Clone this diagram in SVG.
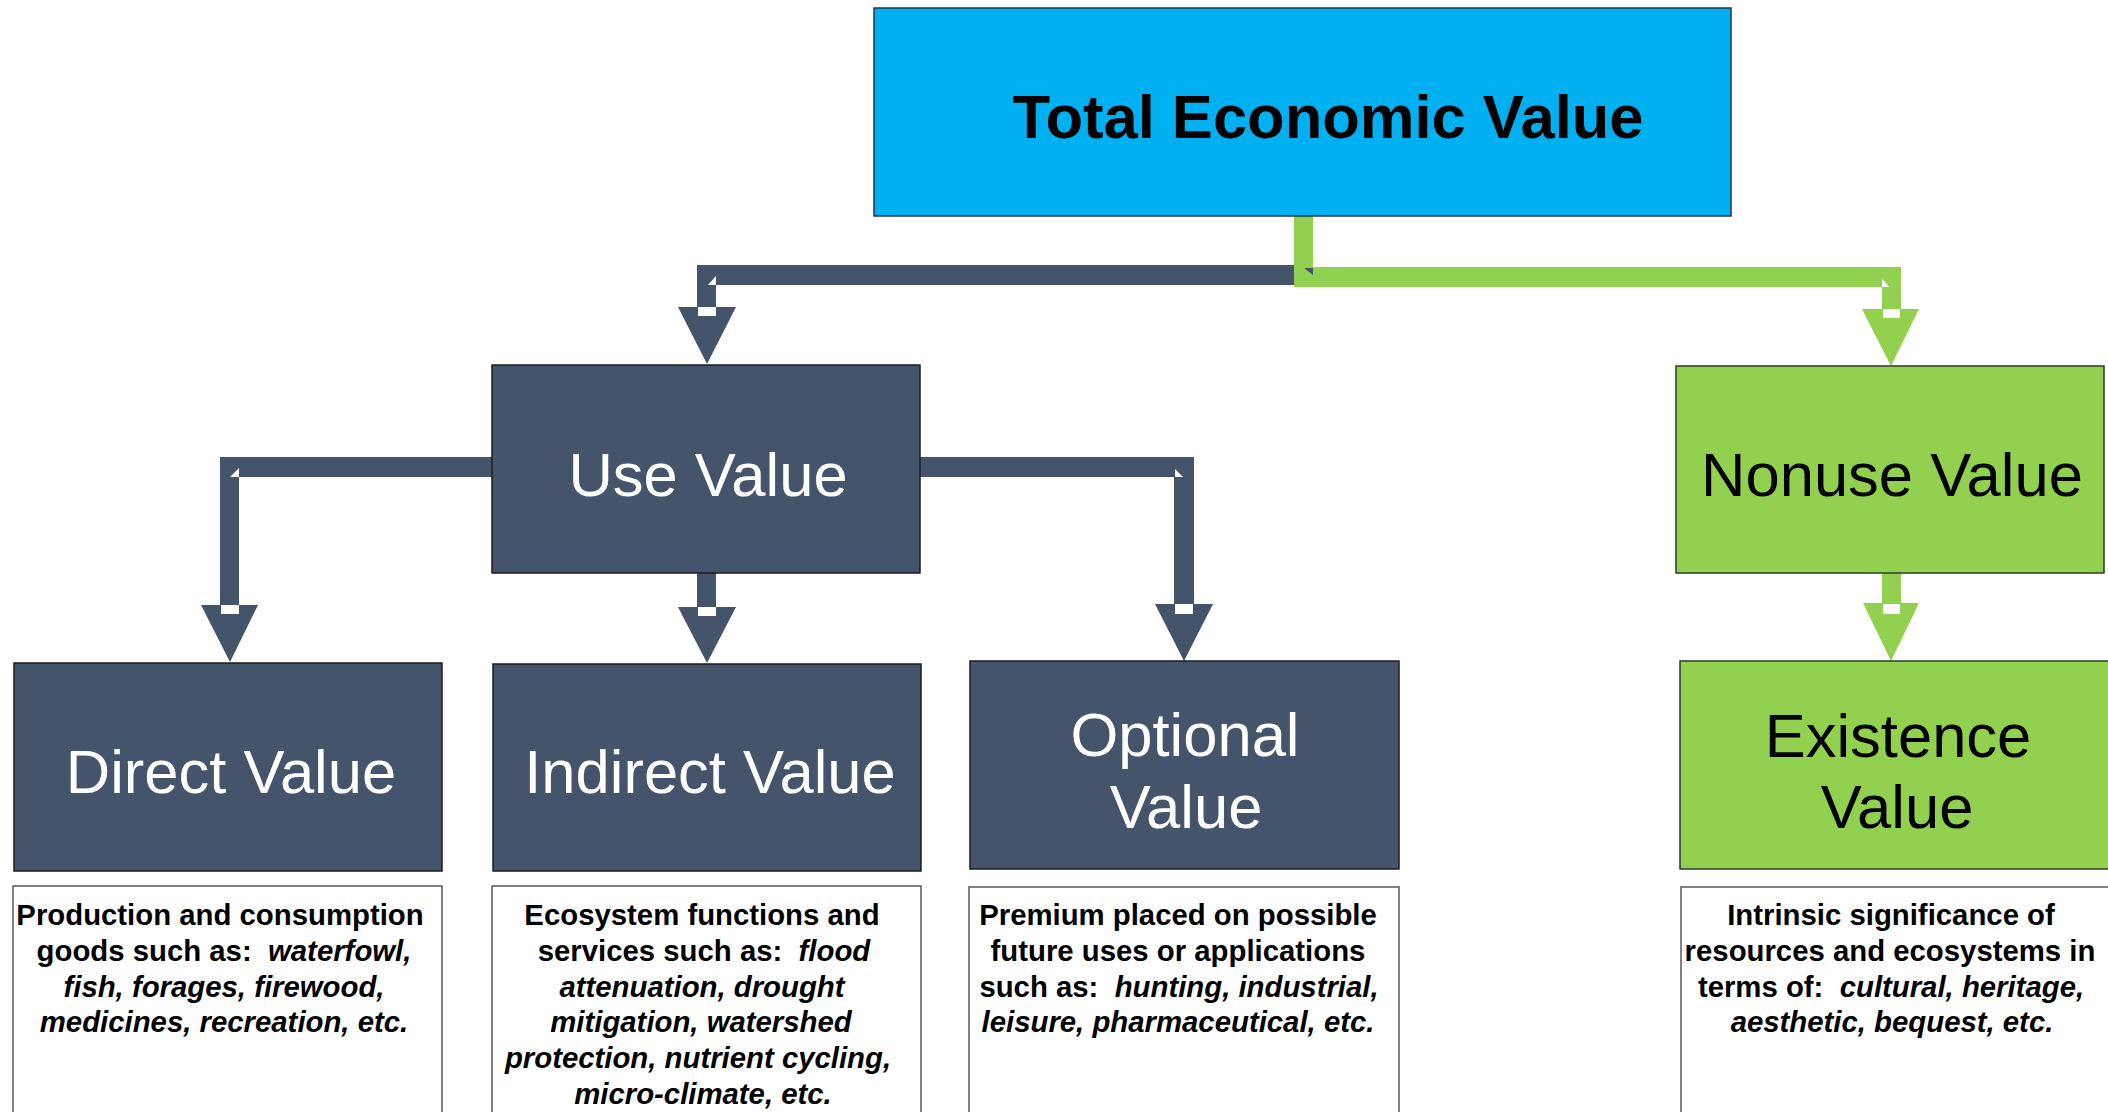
<svg xmlns="http://www.w3.org/2000/svg" width="2108" height="1112" viewBox="0 0 2108 1112">
<style>
.bd{fill:#44546A;stroke:#1c1c1c;stroke-width:1.5}
.bg{fill:#92D050;stroke:#2e3d1f;stroke-width:1.5}
.bb{fill:#00B0F0;stroke:#1f3550;stroke-width:1.5}
.desc{fill:#ffffff;stroke:#404040;stroke-width:1.3}
.t{font-family:"Liberation Sans",Arial,sans-serif;font-size:61.5px;text-anchor:middle}
.tw{fill:#ffffff}
.tk{fill:#000000}
.d{font-family:"Liberation Sans",Arial,sans-serif;font-size:29.33px;font-weight:bold;text-anchor:middle;fill:#000;white-space:pre}
.i{font-style:italic}
.cd{fill:#44546A}
.cg{fill:#92D050}
.w{fill:#ffffff}
</style>
<rect width="2108" height="1112" fill="#ffffff"/>

<g id="connectors">
  <!-- Total -> Use Value -->
  <polygon class="cd" points="1294,216 1313,216 1313,285 716,285 716,307 736,307 707,364 678,307 697,307 697,265 1294,265"/>
  <!-- Total -> Nonuse Value -->
  <polygon class="cg" points="1294,216 1313,216 1313,267 1901,267 1901,309 1919,309 1891,366 1862,309 1882,309 1882,287 1294,287"/>
  <polygon class="cd" points="1304,268 1313,268 1313,275"/>
  <!-- Use -> Direct -->
  <polygon class="cd" points="492,457 220,457 220,605 201,605 230,662 258,605 239,605 239,477 492,477"/>
  <!-- Use -> Indirect -->
  <polygon class="cd" points="697,573 716,573 716,607 736,607 707,663 678,607 697,607"/>
  <!-- Use -> Optional -->
  <polygon class="cd" points="920,457 1194,457 1194,604 1213,604 1184,661 1155,604 1174,604 1174,477 920,477"/>
  <!-- Nonuse -> Existence -->
  <polygon class="cg" points="1882,573 1901,573 1901,603 1919,603 1891,661 1863,603 1882,603"/>
  <!-- corner notches -->
  <polygon class="w" points="716,276 708,285 716,285"/>
  <polygon class="w" points="239,468 230,477 239,477"/>
  <polygon class="w" points="1175,469 1175,477 1183,477"/>
  <polygon class="w" points="1882,278 1882,287 1889,287"/>
  <!-- white marks at arrow bases -->
  <rect class="w" x="698" y="307" width="18" height="9"/>
  <rect class="w" x="221" y="605" width="18" height="9"/>
  <rect class="w" x="698" y="607" width="18" height="9"/>
  <rect class="w" x="1175" y="604" width="18" height="10"/>
  <rect class="w" x="1883" y="309" width="17" height="9"/>
  <rect class="w" x="1883" y="604" width="17" height="10"/>
</g>

<g id="total">
  <rect class="bb" x="874" y="8" width="857" height="208"/>
  <text x="1328" y="138" style="font-family:'Liberation Sans',Arial,sans-serif;font-size:61.5px;font-weight:bold;text-anchor:middle;fill:#000">Total Economic Value</text>
</g>

<g id="use">
  <rect class="bd" x="492" y="365" width="428" height="208"/>
  <text class="t tw" x="708" y="496">Use Value</text>
</g>

<g id="nonuse">
  <rect class="bg" x="1676" y="366" width="428" height="207"/>
  <text class="t tk" x="1892" y="496">Nonuse Value</text>
</g>

<g id="direct">
  <rect class="bd" x="14" y="663" width="428" height="208"/>
  <text class="t tw" x="231" y="793">Direct Value</text>
</g>

<g id="indirect">
  <rect class="bd" x="493" y="664" width="428" height="207"/>
  <text class="t tw" x="710" y="793">Indirect Value</text>
</g>

<g id="optional">
  <rect class="bd" x="970" y="661" width="429" height="208"/>
  <text class="t tw" x="1185" y="756">Optional</text>
  <text class="t tw" x="1186" y="828">Value</text>
</g>

<g id="existence">
  <rect class="bg" x="1680" y="661" width="440" height="208"/>
  <text class="t tk" x="1898" y="757">Existence</text>
  <text class="t tk" x="1897" y="828">Value</text>
</g>

<g id="direct-desc">
  <rect class="desc" x="13" y="886" width="429" height="240"/>
  <text class="d" x="220" y="925">Production and consumption</text>
  <text class="d" x="224" y="961">goods such as:  <tspan class="i">waterfowl,</tspan></text>
  <text class="d i" x="224" y="996.5">fish, forages, firewood,</text>
  <text class="d i" x="224" y="1032">medicines, recreation, etc.</text>
</g>

<g id="indirect-desc">
  <rect class="desc" x="492" y="886" width="429" height="240"/>
  <text class="d" x="702" y="925">Ecosystem functions and</text>
  <text class="d" x="704" y="961">services such as:  <tspan class="i">flood</tspan></text>
  <text class="d i" x="702" y="996.5">attenuation, drought</text>
  <text class="d i" x="701" y="1032">mitigation, watershed</text>
  <text class="d i" x="698" y="1068">protection, nutrient cycling,</text>
  <text class="d i" x="703" y="1104">micro-climate, etc.</text>
</g>

<g id="optional-desc">
  <rect class="desc" x="969" y="887" width="430" height="240"/>
  <text class="d" x="1178" y="925">Premium placed on possible</text>
  <text class="d" x="1178" y="961">future uses or applications</text>
  <text class="d" x="1179" y="996.5">such as:  <tspan class="i">hunting, industrial,</tspan></text>
  <text class="d i" x="1178" y="1032">leisure, pharmaceutical, etc.</text>
</g>

<g id="existence-desc">
  <rect class="desc" x="1681" y="887" width="440" height="240"/>
  <text class="d" x="1891" y="925">Intrinsic significance of</text>
  <text class="d" x="1890" y="961">resources and ecosystems in</text>
  <text class="d" x="1891" y="996.5">terms of:  <tspan class="i">cultural, heritage,</tspan></text>
  <text class="d i" x="1892" y="1032">aesthetic, bequest, etc.</text>
</g>
</svg>
